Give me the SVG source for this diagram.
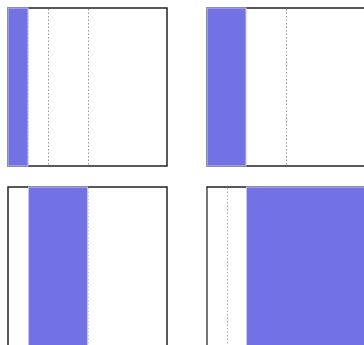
<svg xmlns="http://www.w3.org/2000/svg" width="364" height="345" viewBox="0 0 364 345">
<style>
.frame{fill:#fff;stroke:#222;stroke-width:1.5}
.bar{fill:#7272e4;stroke:#c4c4ec;stroke-width:1}
.dot{stroke:#999;stroke-width:1;stroke-dasharray:1.5 2}
.dotl{stroke:#ccc;stroke-width:1;stroke-dasharray:1.5 2}
</style>
<rect width="364" height="345" fill="#fff"/>
<g id="panel1">
<rect class="frame" x="8" y="8" width="159" height="158"/>
<line class="dotl" x1="28.5" y1="9" x2="28.5" y2="166"/>
<line class="dot" x1="48.5" y1="9" x2="48.5" y2="166"/>
<line class="dot" x1="88.5" y1="9" x2="88.5" y2="166"/>
<rect class="bar" x="8" y="8" width="20" height="158"/>
</g>
<g id="panel2">
<rect class="frame" x="207" y="8" width="200" height="158"/>
<line class="dot" x1="286.5" y1="9" x2="286.5" y2="166"/>
<rect class="bar" x="207" y="8" width="39" height="158"/>
</g>
<g id="panel3">
<rect class="frame" x="8" y="187" width="159" height="200"/>
<line class="dotl" x1="28.5" y1="188" x2="28.5" y2="345"/>
<line class="dotl" x1="88.5" y1="188" x2="88.5" y2="345"/>
<rect class="bar" x="28.5" y="187" width="59" height="200"/>
</g>
<g id="panel4">
<rect class="frame" x="207" y="187" width="200" height="200"/>
<line x1="207" y1="188" x2="207" y2="345" stroke="#777" stroke-width="2"/>
<line class="dotl" x1="227.5" y1="188" x2="227.5" y2="345" style="stroke:#aaa"/>
<rect class="bar" x="246.5" y="187" width="200" height="200"/>
</g>
</svg>
